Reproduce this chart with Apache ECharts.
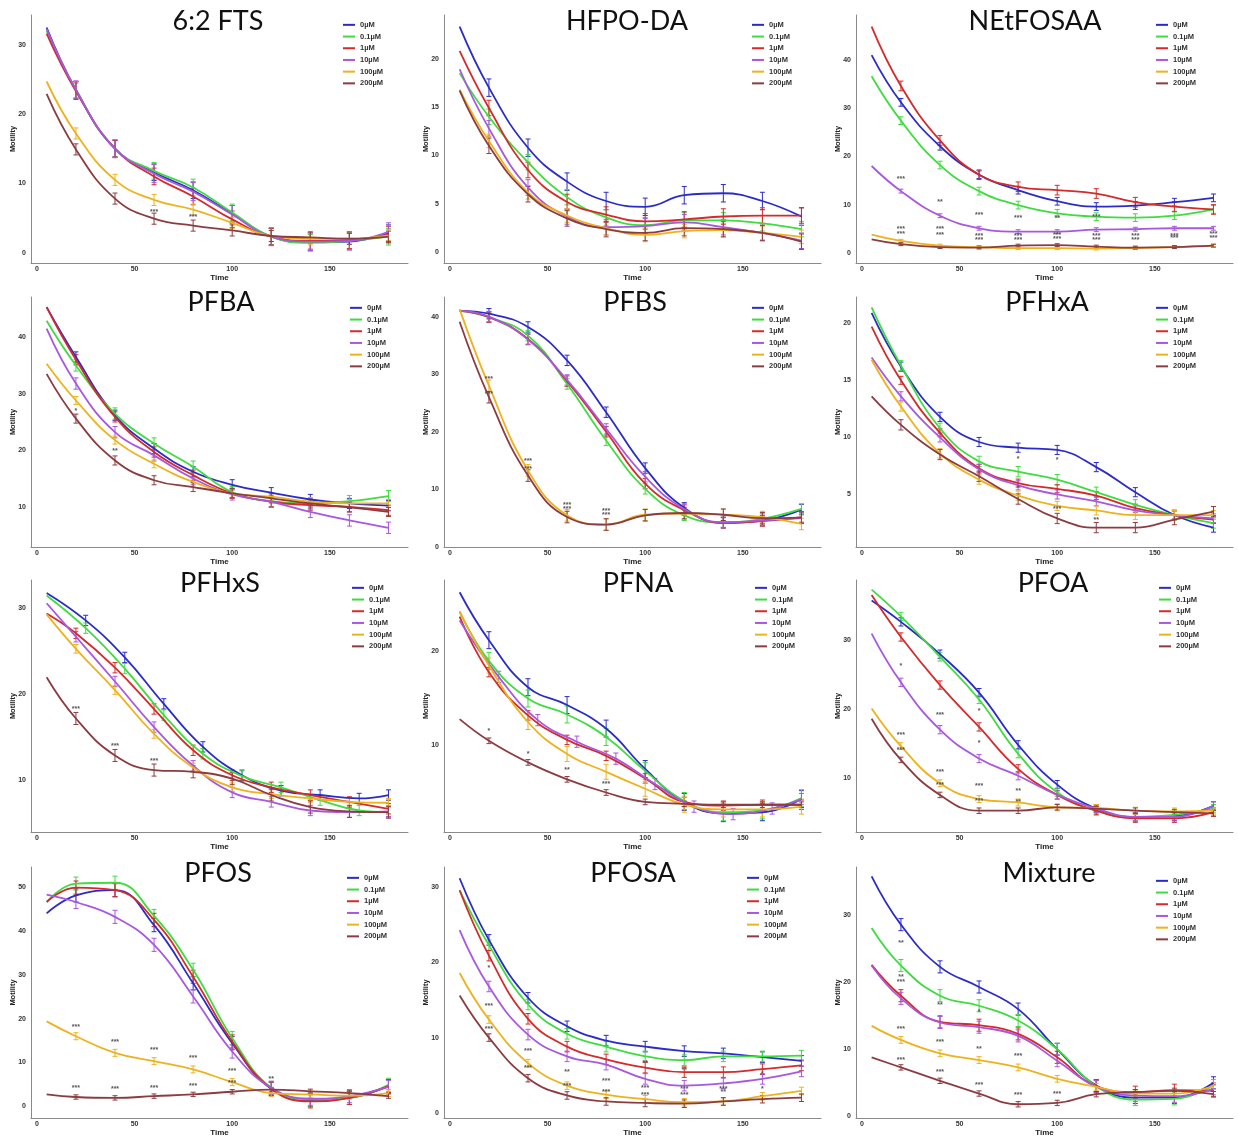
<!DOCTYPE html>
<html>
<head>
<meta charset="utf-8">
<script src="https://cdn.jsdelivr.net/npm/echarts@6/dist/echarts.min.js"></script>
<style>
  html, body { margin: 0; background: #fff; }
  #chart { width: 1238px; height: 1139px; }
</style>
</head>
<body>
<div id="chart"></div>
<script>
// time points (min); some series are dodged by +5
var times = [5, 20, 40, 60, 80, 100, 120, 140, 160, 180];
var timesShift = [5, 25, 45, 65, 85, 105, 125, 145, 165, 180];
var doses = ['0µM', '0.1µM', '1µM', '10µM', '100µM', '200µM'];
var colors = ['#2b2bc9', '#3fdc3f', '#d42a2a', '#a857e0', '#eeb21c', '#8c3c40'];

// motility values, rows in dose order
var fts62 = [
  [32.5, 23.5, 15.0, 11.6, 9.0, 5.6, 2.3, 1.5, 1.6, 2.8],
  [32.0, 23.5, 15.0, 11.8, 9.4, 5.8, 2.3, 1.4, 1.7, 2.3],
  [31.6, 23.3, 15.0, 11.0, 8.1, 4.8, 2.3, 1.7, 1.8, 2.6],
  [32.3, 23.5, 15.0, 11.4, 8.8, 5.5, 2.3, 1.6, 1.7, 3.0],
  [24.7, 17.2, 10.5, 7.6, 6.2, 4.3, 2.4, 2.0, 2.0, 2.5],
  [22.9, 14.9, 7.8, 4.9, 3.9, 3.2, 2.4, 2.2, 2.0, 2.3]
];
var hfpo = [
  [23.3, 17.0, 10.8, 7.3, 5.3, 4.7, 5.9, 6.1, 5.3, 3.7],
  [18.5, 14.0, 9.3, 5.7, 3.6, 2.8, 3.3, 3.3, 3.0, 2.4],
  [20.8, 14.9, 8.5, 5.2, 3.9, 3.2, 3.4, 3.7, 3.8, 3.8],
  [18.9, 12.8, 6.7, 3.7, 2.6, 2.7, 3.1, 2.6, 2.0, 1.2],
  [16.8, 11.5, 6.2, 3.8, 2.5, 1.8, 2.2, 2.3, 2.0, 1.6],
  [16.7, 11.0, 6.0, 3.5, 2.4, 2.0, 2.5, 2.4, 2.0, 1.1]
];
var netfosaa = [
  [41.0, 31.2, 22.1, 16.2, 13.0, 10.7, 9.6, 9.8, 10.5, 11.4],
  [36.6, 27.4, 18.2, 12.8, 9.9, 8.2, 7.5, 7.3, 7.7, 9.0],
  [46.9, 34.6, 23.3, 16.2, 13.7, 13.0, 12.3, 10.5, 9.6, 9.0],
  [18.0, 12.8, 7.7, 5.1, 4.4, 4.4, 4.8, 4.9, 5.1, 5.1],
  [3.8, 2.5, 1.5, 1.2, 1.0, 1.0, 0.9, 1.0, 1.2, 1.5],
  [2.8, 1.8, 1.2, 1.1, 1.5, 1.6, 1.3, 1.1, 1.2, 1.5]
];
var pfba = [
  [45.3, 36.5, 26.2, 20.3, 16.2, 13.9, 12.5, 11.3, 10.6, 10.2],
  [42.9, 35.0, 26.5, 21.2, 17.1, 12.6, 11.0, 10.6, 11.0, 11.9],
  [45.3, 36.0, 25.9, 19.7, 15.6, 12.4, 10.9, 10.3, 10.0, 9.4],
  [41.5, 31.8, 23.2, 19.1, 15.0, 12.2, 10.9, 9.1, 7.6, 6.3],
  [35.3, 28.8, 21.8, 17.6, 14.4, 12.4, 11.8, 10.9, 10.6, 10.6],
  [33.5, 25.6, 18.2, 14.7, 13.5, 12.4, 11.5, 10.6, 9.9, 9.1]
];
var pfbs = [
  [41.0, 40.5, 38.2, 32.4, 23.4, 13.7, 6.8, 4.2, 4.6, 6.5],
  [41.0, 39.9, 36.7, 28.3, 18.5, 10.1, 5.5, 4.3, 4.9, 6.6],
  [41.0, 39.9, 36.1, 28.8, 20.0, 11.0, 6.4, 4.2, 4.5, 5.2],
  [41.0, 40.0, 36.0, 29.0, 20.5, 12.2, 6.6, 4.3, 4.6, 5.0],
  [41.3, 28.0, 13.3, 5.5, 3.9, 5.6, 5.8, 5.6, 5.2, 4.0],
  [39.1, 26.0, 12.4, 5.2, 3.9, 5.5, 5.9, 5.6, 5.0, 5.1]
];
var pfhxa = [
  [20.9, 16.2, 11.8, 9.6, 9.1, 8.9, 7.4, 5.2, 3.2, 2.1],
  [21.4, 16.3, 10.8, 7.9, 7.0, 6.3, 5.2, 4.1, 3.2, 2.5],
  [19.7, 15.0, 10.4, 7.3, 6.0, 5.5, 4.9, 3.8, 3.2, 2.8],
  [17.0, 13.6, 10.0, 7.2, 5.8, 5.0, 4.4, 3.6, 3.2, 2.9],
  [16.8, 12.7, 8.6, 6.3, 4.9, 4.0, 3.6, 3.2, 3.2, 3.2],
  [13.6, 11.1, 8.5, 6.6, 4.6, 2.9, 2.1, 2.1, 2.8, 3.5]
];
var pfhxs = [
  [31.8, 28.6, 24.3, 18.9, 13.9, 10.6, 8.8, 8.3, 7.9, 8.3],
  [31.5, 27.7, 23.0, 17.6, 13.1, 10.5, 9.2, 7.7, 6.5, 6.3],
  [29.4, 27.1, 23.1, 18.3, 13.5, 10.6, 9.2, 8.3, 7.5, 6.7],
  [30.6, 26.7, 21.5, 16.2, 11.7, 8.6, 7.5, 6.5, 6.3, 6.4],
  [29.3, 25.3, 20.5, 15.4, 11.5, 9.2, 8.4, 7.9, 7.5, 7.4],
  [22.0, 17.2, 12.9, 11.2, 11.0, 10.2, 8.3, 6.9, 6.4, 6.3]
];
var pfna = [
  [26.3, 21.2, 16.2, 14.3, 11.8, 7.5, 4.0, 2.8, 2.9, 4.3],
  [24.2, 19.0, 15.0, 13.3, 10.9, 7.3, 4.1, 2.9, 3.1, 4.4],
  [23.7, 17.8, 13.2, 10.6, 8.9, 6.5, 4.0, 3.6, 3.7, 3.7],
  [23.3, 17.3, 12.7, 10.4, 8.6, 5.9, 3.5, 2.7, 3.3, 4.3],
  [24.3, 18.5, 12.5, 9.1, 7.2, 5.4, 3.7, 3.2, 3.2, 3.5],
  [12.8, 10.5, 8.2, 6.4, 5.0, 4.0, 3.8, 3.7, 3.7, 3.7]
];
var pfoa = [
  [35.8, 32.7, 28.0, 22.4, 14.8, 9.0, 5.5, 4.3, 4.4, 5.9],
  [37.4, 33.5, 27.6, 21.4, 13.5, 7.9, 5.2, 4.3, 4.6, 5.5],
  [36.6, 30.5, 23.5, 17.4, 11.3, 7.5, 5.2, 4.1, 4.1, 5.0],
  [31.0, 23.9, 17.0, 12.8, 10.3, 7.5, 5.5, 4.3, 4.3, 5.9],
  [20.1, 14.6, 9.2, 6.9, 6.4, 5.7, 5.6, 5.2, 5.1, 5.2],
  [18.6, 12.6, 7.5, 5.2, 5.2, 5.7, 5.5, 5.2, 5.0, 4.8]
];
var pfos = [
  [44.1, 48.2, 49.4, 41.4, 28.1, 14.4, 4.0, 1.4, 1.9, 4.6],
  [46.7, 50.9, 51.1, 43.5, 31.2, 15.6, 4.2, 1.5, 1.9, 4.9],
  [46.7, 50.0, 49.4, 42.6, 29.6, 14.8, 4.0, 1.1, 1.9, 4.6],
  [48.4, 46.7, 43.3, 36.9, 25.1, 12.5, 4.2, 1.7, 2.3, 4.4],
  [19.4, 16.0, 12.2, 10.3, 8.4, 5.5, 3.0, 2.7, 2.4, 3.0],
  [2.7, 2.1, 1.9, 2.3, 2.7, 3.3, 3.8, 3.4, 3.0, 2.3]
];
var pfosa = [
  [31.2, 23.0, 15.3, 11.5, 9.6, 8.8, 8.2, 7.9, 7.4, 6.9],
  [29.6, 22.3, 14.4, 10.5, 8.8, 7.5, 7.0, 7.5, 7.5, 7.6],
  [29.6, 20.9, 12.5, 8.8, 7.1, 6.0, 5.4, 5.4, 5.8, 6.3],
  [24.3, 16.8, 10.4, 7.5, 6.4, 4.5, 3.6, 3.9, 4.5, 5.5],
  [18.6, 12.4, 6.6, 3.6, 2.4, 1.8, 1.4, 1.5, 2.2, 2.9],
  [15.6, 10.0, 4.6, 2.3, 1.5, 1.3, 1.2, 1.5, 1.8, 2.0]
];
var mixture = [
  [35.8, 28.6, 22.3, 19.3, 16.0, 10.0, 4.6, 2.8, 2.8, 5.0],
  [28.1, 22.5, 18.0, 16.5, 14.3, 10.0, 4.5, 2.5, 2.6, 4.6],
  [22.6, 18.0, 14.1, 13.6, 12.3, 8.8, 4.5, 3.6, 3.9, 3.8],
  [22.5, 17.6, 14.0, 13.3, 12.0, 8.3, 4.4, 3.1, 3.0, 4.1],
  [13.5, 11.4, 9.4, 8.4, 7.3, 5.6, 4.4, 3.4, 3.4, 4.5],
  [8.8, 7.3, 5.3, 3.4, 1.8, 2.0, 3.3, 3.6, 3.8, 3.3]
];

// error bar half-widths (SEM), one per dose
var fts62Err = [1.2, 1.2, 1.2, 1.3, 0.8, 0.8];
var hfpoErr = [0.9, 0.8, 0.8, 0.8, 0.7, 0.8];
var netfosaaErr = [0.8, 0.8, 1.0, 0.4, 0.3, 0.3];
var pfbaErr = [0.9, 1.0, 0.9, 1.0, 0.7, 0.8];
var pfbsErr = [0.9, 0.9, 0.9, 0.9, 1.0, 1.0];
var pfhxaErr = [0.4, 0.45, 0.35, 0.4, 0.4, 0.45];
var pfhxsErr = [0.6, 0.6, 0.6, 0.6, 0.5, 0.7];
var pfnaErr = [0.9, 0.9, 0.5, 0.6, 0.8, 0.3];
var pfoaErr = [0.6, 0.6, 0.6, 0.6, 0.5, 0.4];
var pfosErr = [1.5, 1.5, 1.5, 1.5, 0.8, 0.5];
var pfosaErr = [0.7, 0.7, 0.7, 0.7, 0.5, 0.5];
var mixtureErr = [0.9, 0.9, 0.9, 0.9, 0.5, 0.4];

// significance marks [time, motility, text]
var fts62Stars = [[60, 5.8, '***'], [80, 5.1, '***']];
var hfpoStars = [];
var netfosaaStars = [[20, 15.4, '***'], [40, 10.5, '**'], [60, 7.9, '***'], [80, 7.2, '***'], [100, 7.2, '**'], [120, 7.4, '***'],
  [20, 5.0, '***'], [20, 3.8, '***'], [40, 4.9, '***'], [40, 3.7, '***'], [60, 3.4, '***'], [60, 2.6, '***'],
  [80, 3.4, '***'], [80, 2.6, '***'], [100, 3.6, '***'], [100, 2.8, '***'], [120, 3.4, '***'], [120, 2.6, '***'],
  [140, 3.4, '***'], [140, 2.6, '***'], [160, 3.4, '***'], [160, 3.0, '***'], [180, 3.8, '***'], [180, 3.1, '***']];
var pfbaStars = [[20, 27, '*'], [40, 19.8, '**']];
var pfbsStars = [[20, 29.1, '***'], [20, 26.6, '***'], [40, 15.0, '***'], [40, 13.5, '***'], [60, 7.2, '***'], [60, 6.5, '***'], [80, 6.2, '***'], [80, 5.5, '***']];
var pfhxaStars = [[80, 8.1, '*'], [80, 5.6, '*'], [100, 8.0, '*'], [100, 3.7, '***'], [120, 2.8, '**']];
var pfhxsStars = [[20, 18.3, '***'], [40, 14.0, '***'], [60, 12.3, '***']];
var pfnaStars = [[20, 11.5, '*'], [40, 9.1, '*'], [60, 7.4, '**'], [80, 5.9, '***']];
var pfoaStars = [[20, 26.2, '*'], [20, 16.2, '***'], [20, 14.1, '***'], [40, 19.2, '***'], [40, 10.9, '***'], [40, 8.9, '***'],
  [60, 19.7, '*'], [60, 15.0, '*'], [60, 8.8, '***'], [60, 6.6, '***'], [80, 8.1, '**'], [80, 6.4, '**']];
var pfosStars = [[20, 18.2, '***'], [40, 14.6, '***'], [60, 12.9, '***'], [80, 10.9, '***'], [100, 8.0, '***'],
  [20, 4.2, '***'], [40, 4.0, '***'], [60, 4.2, '***'], [80, 4.6, '***'], [100, 5.3, '***'], [120, 6.1, '**']];
var pfosaStars = [[20, 19.2, '*'], [20, 14.2, '***'], [20, 11.1, '***'], [40, 8.2, '***'], [40, 6.0, '***'], [60, 5.4, '**'], [60, 3.5, '***'],
  [80, 4.2, '***'], [80, 2.7, '***'], [100, 6.6, '**'], [100, 3.3, '***'], [100, 2.3, '***'], [120, 5.7, '**'], [120, 3.1, '***'],
  [120, 2.4, '***'], [140, 3.2, '***'], [140, 2.7, '**'], [160, 5.1, '*'], [160, 3.1, '*']];
var mixtureStars = [[20, 25.9, '**'], [20, 20.8, '**'], [20, 20.1, '***'], [20, 13.0, '***'], [20, 8.4, '***'], [40, 16.6, '**'],
  [40, 11.1, '***'], [40, 6.6, '***'], [60, 15.6, '*'], [60, 10.1, '**'], [60, 4.6, '***'], [80, 9.0, '***'], [80, 3.1, '***'], [100, 3.3, '***']];

var B = times, S = timesShift;
var panels = [
  { name: '6:2 FTS', y: fts62, err: fts62Err, stars: fts62Stars, yMin: -1.5, yMax: 34.3, ticks: [0, 10, 20, 30] },
  { name: 'HFPO-DA', y: hfpo, err: hfpoErr, stars: hfpoStars, yMin: -1.1, yMax: 24.5, ticks: [0, 5, 10, 15, 20] },
  { name: 'NEtFOSAA', y: netfosaa, err: netfosaaErr, stars: netfosaaStars, yMin: -2.1, yMax: 49.3, ticks: [0, 10, 20, 30, 40] },
  { name: 'PFBA', y: pfba, err: pfbaErr, stars: pfbaStars, yMin: 2.9, yMax: 47.1, ticks: [10, 20, 30, 40] },
  { name: 'PFBS', y: pfbs, err: pfbsErr, stars: pfbsStars, yMin: 0, yMax: 43.4, ticks: [0, 10, 20, 30, 40] },
  { name: 'PFHxA', y: pfhxa, err: pfhxaErr, stars: pfhxaStars, yMin: 0.4, yMax: 22.3, ticks: [5, 10, 15, 20] },
  { name: 'PFHxS', y: pfhxs, err: pfhxsErr, stars: pfhxsStars, yMin: 4.0, yMax: 33.3, ticks: [10, 20, 30], t: [S, S, B, B, B, B] },
  { name: 'PFNA', y: pfna, err: pfnaErr, stars: pfnaStars, yMin: 0.8, yMax: 27.6, ticks: [10, 20], t: [B, B, B, S, B, B] },
  { name: 'PFOA', y: pfoa, err: pfoaErr, stars: pfoaStars, yMin: 2.1, yMax: 38.8, ticks: [10, 20, 30] },
  { name: 'PFOS', y: pfos, err: pfosErr, stars: pfosStars, yMin: -2.7, yMax: 54.7, ticks: [0, 10, 20, 30, 40, 50] },
  { name: 'PFOSA', y: pfosa, err: pfosaErr, stars: pfosaStars, yMin: -0.7, yMax: 32.7, ticks: [0, 10, 20, 30] },
  { name: 'Mixture', y: mixture, err: mixtureErr, stars: mixtureStars, yMin: -0.25, yMax: 37.2, ticks: [0, 10, 20, 30] }
];

// layout
var colLeft = [31, 444, 856];
var gridW = 377;
var rowTop = [15, 297, 580, 867];
var rowBottom = [263, 547, 832, 1118];
var titleX = [218, 627, 1035, 221, 635, 1047, 220, 638, 1053, 218, 633, 1049];
var titleY = [21, 302, 583, 873];
var legendX = [343, 752, 1156, 350, 752, 1156, 352, 755, 1159, 347, 747, 1156];
var legendY = [20, 20, 20, 303, 303, 303, 583, 583, 583, 873, 873, 876];

var labelFont = { fontSize: 7, fontWeight: 'bold', color: '#333', fontFamily: 'Liberation Sans' };

function errRender(color) {
  return function(params, api) {
    var x = api.value(0);
    var p1 = api.coord([x, api.value(2)]);
    var p2 = api.coord([x, api.value(1)]);
    var w = 2.5;
    var st = { stroke: color, lineWidth: 1 };
    return {
      type: 'group',
      children: [
        { type: 'line', shape: { x1: p1[0], y1: p1[1], x2: p2[0], y2: p2[1] }, style: st },
        { type: 'line', shape: { x1: p1[0] - w, y1: p1[1], x2: p1[0] + w, y2: p1[1] }, style: st },
        { type: 'line', shape: { x1: p2[0] - w, y1: p2[1], x2: p2[0] + w, y2: p2[1] }, style: st }
      ]
    };
  };
}

function starRender(marks) {
  return function(params, api) {
    var pt = api.coord([api.value(0), api.value(1)]);
    return {
      type: 'text', x: pt[0], y: pt[1],
      style: { text: marks[params.dataIndex], align: 'center', verticalAlign: 'middle',
        fontSize: 7, fontWeight: 'bold', fill: '#555', fontFamily: 'Liberation Sans' }
    };
  };
}

var grids = [], xAxes = [], yAxes = [], series = [], legends = [], texts = [];

panels.forEach(function(p, i) {
  var r = Math.floor(i / 3), c = i % 3;
  grids.push({ left: colLeft[c], top: rowTop[r], width: gridW, height: rowBottom[r] - rowTop[r] });
  xAxes.push({
    type: 'value', gridIndex: i, min: -3, max: 190,
    axisLine: { show: true, onZero: false, lineStyle: { color: '#8a8a8a', width: 1 } },
    axisTick: { show: false }, splitLine: { show: false },
    axisLabel: Object.assign({ customValues: [0, 50, 100, 150], margin: 3 }, labelFont),
    name: 'Time', nameLocation: 'middle', nameGap: 9,
    nameTextStyle: { fontSize: 8, fontWeight: 'bold', color: '#222', fontFamily: 'Liberation Sans' }
  });
  yAxes.push({
    type: 'value', gridIndex: i, min: p.yMin, max: p.yMax,
    axisLine: { show: true, onZero: false, lineStyle: { color: '#8a8a8a', width: 1 } },
    axisTick: { show: false }, splitLine: { show: false },
    axisLabel: Object.assign({ customValues: p.ticks, margin: 5 }, labelFont),
    name: 'Motility', nameLocation: 'middle', nameGap: 14, nameMoveOverlap: false,
    nameTextStyle: { fontSize: 7.5, fontWeight: 'bold', color: '#222', fontFamily: 'Liberation Sans' }
  });

  p.y.forEach(function(vals, k) {
    var tt = p.t ? p.t[k] : times;
    series.push({
      type: 'line', name: doses[k], xAxisIndex: i, yAxisIndex: i,
      data: vals.map(function(v, j) { return [tt[j], v]; }),
      smooth: 0.45, showSymbol: false, silent: true,
      lineStyle: { width: 1.8, color: colors[k] }, itemStyle: { color: colors[k] }
    });
    var bars = [];
    vals.forEach(function(v, j) { if (j > 0) bars.push([tt[j], v - p.err[k], v + p.err[k]]); });
    series.push({
      type: 'custom', name: 'err' + k, xAxisIndex: i, yAxisIndex: i, silent: true,
      data: bars, encode: { x: 0, y: [1, 2] }, renderItem: errRender(colors[k]), z: 3
    });
  });

  if (p.stars.length) {
    series.push({
      type: 'custom', name: 'sig', xAxisIndex: i, yAxisIndex: i, silent: true, z: 4,
      data: p.stars.map(function(s) { return [s[0], s[1]]; }),
      encode: { x: 0, y: 1 },
      renderItem: starRender(p.stars.map(function(s) { return s[2]; }))
    });
  }

  legends.push({
    orient: 'vertical', left: legendX[i], top: legendY[i], data: doses, padding: 0,
    icon: 'rect', itemWidth: 12, itemHeight: 2, itemGap: 2, selectedMode: false,
    textStyle: { fontSize: 7.5, fontWeight: 'bold', color: '#333', lineHeight: 9.7, fontFamily: 'Liberation Sans' }
  });

  texts.push({
    type: 'text', x: titleX[i], y: titleY[r],
    style: { text: p.name, align: 'center', verticalAlign: 'middle', fontSize: 27, fontFamily: 'Lato', fill: '#111' }
  });
});

var chart = echarts.init(document.getElementById('chart'));
chart.setOption({
  backgroundColor: '#fff',
  animation: false,
  grid: grids,
  xAxis: xAxes,
  yAxis: yAxes,
  legend: legends,
  graphic: texts,
  series: series
});
</script>
</body>
</html>
